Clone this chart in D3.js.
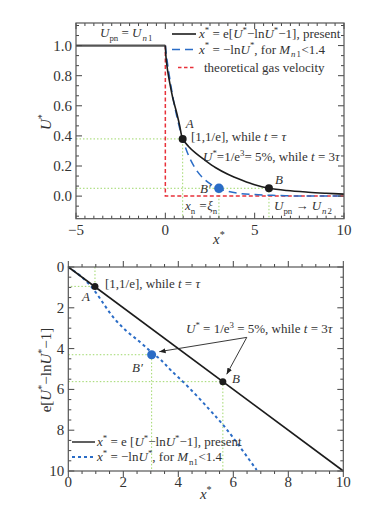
<!DOCTYPE html>
<html>
<head>
<meta charset="utf-8">
<script src="https://cdn.jsdelivr.net/npm/d3@7"></script>
<style>
  body { margin: 0; background: #fff; }
</style>
</head>
<body>
<svg id="chart" width="389" height="508" font-family="'Liberation Serif', 'DejaVu Serif', serif"></svg>
<script>
// ---- top panel data (U* against x*) ----
var topXTicks = [-5, 0, 5, 10]
var topYTicks = [0.0, 0.2, 0.4, 0.6, 0.8, 1.0]
var plateauX = [-5, 0]
var plateauU = [1, 1]
var presentX = [0, 0.04, 0.12, 0.25, 0.42, 0.62, 0.8, 0.97, 1.3, 1.7, 2.2, 2.8, 3.5, 4.3, 5.0, 5.8, 6.8, 8.0, 9.0, 10]
var presentU = [1, 0.92, 0.84, 0.75, 0.65, 0.56, 0.47, 0.38, 0.33, 0.285, 0.24, 0.19, 0.145, 0.105, 0.075, 0.052, 0.037, 0.026, 0.019, 0.013]
var lnX = [0, 0.1, 0.25, 0.45, 0.7, 0.97, 1.3, 1.7, 2.2, 2.6, 3.0, 3.5, 4.0, 5.0, 6.0, 7.0, 8.0, 10]
var lnU = [1, 0.9, 0.78, 0.64, 0.5, 0.38, 0.27, 0.18, 0.11, 0.075, 0.05, 0.032, 0.02, 0.01, 0.005, 0.002, 0, 0]
var gasX = [0, 0, 10]
var gasU = [1, 0, 0]
var topPoints = [{x: 0.97, u: 0.38, c: "dark"}, {x: 5.8, u: 0.052, c: "dark"}, {x: 3.0, u: 0.052, c: "blue"}]

// ---- bottom panel data (e[U*-lnU*-1] against x*) ----
var botTicks = [0, 2, 4, 6, 8, 10]
var lineX = [0, 10]
var lineY = [0, 10]
var blueX = [0, 0.43, 0.91, 1.27, 1.64, 2.12, 2.61, 3.03, 3.4, 3.7, 4.31, 5.15, 5.7, 6.24, 6.85]
var blueY = [0, 0.39, 1.04, 1.78, 2.51, 3.17, 3.66, 4.2, 4.56, 5.05, 5.78, 7.01, 7.83, 8.81, 9.95]
var botPoints = [{x: 0.97, y: 0.95, c: "dark"}, {x: 5.62, y: 5.62, c: "dark"}, {x: 3.03, y: 4.3, c: "blue"}]

var colors = {dark: "#1c1c1c", gray: "#555", blue: "#2a6cc6", red: "#e8313a", green: "#9fd86b"}
var serif = "'Liberation Serif', 'DejaVu Serif', serif"

var svg = d3.select("#chart")

// rich text: parts = [[string, kind, dx]] kind: "", "i", "sup", "sub", "isub"
function rich(sel, parts, size) {
  var shift = 0
  parts.forEach(function(p) {
    var s = p[0], k = p[1] || ""
    var t = sel.append("tspan").text(s)
    var target = 0
    if (k.indexOf("sup") >= 0) target = -size * 0.4
    if (k.indexOf("sub") >= 0) target = size * 0.3
    t.attr("dy", target - shift)
    if (p[2]) t.attr("dx", p[2])
    shift = target
    if (target !== 0) t.attr("font-size", size * 0.68)
    if (k === "i" || k === "isub" || k === "isup") t.attr("font-style", "italic")
  })
}

function label(g, x, y, parts, size, anchor) {
  var t = g.append("text").attr("x", x).attr("y", y).attr("font-size", size)
    .attr("font-family", serif).attr("fill", "#333")
    .attr("text-anchor", anchor || "start")
  rich(t, parts, size)
  return t
}

function frame(g, x, y, xMajor, yMajor, xMinor, yMinor, xFmt, yFmt) {
  var x0 = x.range()[0], x1 = x.range()[1], y0 = y.range()[0], y1 = y.range()[1]
  var ticks = g.append("g").attr("stroke", "#444").attr("stroke-width", 1)
  xMinor.forEach(function(v) {
    ticks.append("line").attr("x1", x(v)).attr("x2", x(v)).attr("y1", y0).attr("y2", y0 - 3)
    ticks.append("line").attr("x1", x(v)).attr("x2", x(v)).attr("y1", y1).attr("y2", y1 + 3)
  })
  xMajor.forEach(function(v) {
    ticks.append("line").attr("x1", x(v)).attr("x2", x(v)).attr("y1", y0).attr("y2", y0 - 6)
    ticks.append("line").attr("x1", x(v)).attr("x2", x(v)).attr("y1", y1).attr("y2", y1 + 6)
  })
  yMinor.forEach(function(v) {
    ticks.append("line").attr("y1", y(v)).attr("y2", y(v)).attr("x1", x0).attr("x2", x0 + 3)
    ticks.append("line").attr("y1", y(v)).attr("y2", y(v)).attr("x1", x1).attr("x2", x1 - 3)
  })
  yMajor.forEach(function(v) {
    ticks.append("line").attr("y1", y(v)).attr("y2", y(v)).attr("x1", x0).attr("x2", x0 + 6)
    ticks.append("line").attr("y1", y(v)).attr("y2", y(v)).attr("x1", x1).attr("x2", x1 - 6)
  })
  g.append("rect").attr("x", x0).attr("y", Math.min(y0, y1))
    .attr("width", x1 - x0).attr("height", Math.abs(y1 - y0))
    .attr("fill", "none").attr("stroke", "#555").attr("stroke-width", 1.2)
  g.selectAll(".xl").data(xMajor).enter().append("text")
    .attr("x", function(d) { return x(d) }).attr("y", Math.max(y0, y1) + 16)
    .attr("font-family", serif).attr("fill", "#333")
    .attr("text-anchor", "middle").attr("font-size", 15).text(xFmt)
  g.selectAll(".yl").data(yMajor).enter().append("text")
    .attr("x", x0 - 4).attr("y", function(d) { return y(d) + 5 })
    .attr("font-family", serif).attr("fill", "#333")
    .attr("text-anchor", "end").attr("font-size", 15).text(yFmt)
}

function path(g, xs, ys, x, y, color, width, dash, curve) {
  var pts = xs.map(function(v, i) { return [v, ys[i]] })
  g.append("path").datum(pts)
    .attr("d", d3.line().x(function(d) { return x(d[0]) }).y(function(d) { return y(d[1]) })
      .curve(curve || d3.curveLinear))
    .attr("fill", "none").attr("stroke", color).attr("stroke-width", width)
    .attr("stroke-dasharray", dash || null)
}

function guide(g, pts, color) {
  g.append("polyline").attr("points", pts.map(function(p) { return p.join(",") }).join(" "))
    .attr("fill", "none").attr("stroke", color).attr("stroke-width", 1).attr("stroke-dasharray", "1.5,2")
}

// ================= TOP PANEL =================
var xT = d3.scaleLinear().domain([-5, 10]).range([76, 344])
var yT = d3.scaleLinear().domain([-0.15, 1.15]).range([218.7, 23])
var gT = svg.append("g")

var xMinT = d3.range(-5, 10.01, 0.5).filter(function(v) { return topXTicks.indexOf(v) < 0 })
var yMinT = []
d3.range(-0.2, 1.21, 0.2).forEach(function(m) {
  [m + 0.2 / 3, m + 0.4 / 3].forEach(function(v) { if (v > -0.15 && v < 1.15) yMinT.push(v) })
})

// guides
guide(gT, [[xT(-5), yT(0.38)], [xT(0.97), yT(0.38)], [xT(0.97), yT(-0.15)]], colors.green)
guide(gT, [[xT(-5), yT(0.052)], [xT(5.8), yT(0.052)], [xT(5.8), yT(-0.15)]], colors.green)
guide(gT, [[xT(3.0), yT(0.052)], [xT(3.0), yT(-0.15)]], colors.green)

path(gT, gasX, gasU, xT, yT, colors.red, 1.5, "4,2.5")
path(gT, lnX, lnU, xT, yT, colors.blue, 1.5, "8,5", d3.curveMonotoneX)
path(gT, plateauX, plateauU, xT, yT, colors.gray, 2.2)
path(gT, presentX, presentU, xT, yT, colors.dark, 1.6, null, d3.curveCatmullRom)

gT.selectAll(".pt").data(topPoints).enter().append("circle")
  .attr("cx", function(d) { return xT(d.x) }).attr("cy", function(d) { return yT(d.u) })
  .attr("r", function(d) { return d.c === "blue" ? 4.8 : 4 })
  .attr("fill", function(d) { return colors[d.c] })

frame(gT, xT, yT, topXTicks, topYTicks, xMinT, yMinT, d3.format("d"), d3.format(".1f"))

// legend top
var legT = [
  {y: 34, c: colors.dark, dash: null, x0: 172, parts: [["x", "i"], ["*", "sup"], [" = e["], ["U", "i"], ["*", "sup"], ["\u2212ln"], ["U", "i"], ["*", "sup"], ["\u22121], present"]]},
  {y: 49.5, c: colors.blue, dash: "8,5", x0: 172, parts: [["x", "i"], ["*", "sup"], [" = \u2212ln"], ["U", "i"], ["*", "sup"], [", for "], ["M", "i"], ["n", "isub", 1], ["1", "sub", 1], ["<1.4", "", 0.5]]},
  {y: 67.5, c: colors.red, dash: "3.5,2.5", x0: 178, parts: [["theoretical gas velocity"]]}
]
legT.forEach(function(r, i) {
  gT.append("line").attr("x1", r.x0).attr("x2", 196).attr("y1", r.y).attr("y2", r.y)
    .attr("stroke", r.c).attr("stroke-width", 1.6).attr("stroke-dasharray", r.dash)
  label(gT, i === 2 ? 204 : 199, r.y + 4, r.parts, 13)
})

label(gT, 100, 37, [["U", "i"], ["pn", "sub"], [" = "], ["U", "i"], ["n", "isub", 1], ["1", "sub", 1]], 13)
label(gT, xT(0.97) + 3, 128, [["A", "i"]], 13)
label(gT, 191, 141, [["[1,1/e], while "], ["t", "i"], [" = "], ["\u03c4", "i"]], 13)
label(gT, 203, 161, [["U", "i"], ["*", "sup"], ["=1/e"], ["3", "sup"], ["= 5%, while "], ["t", "i"], [" = 3"], ["\u03c4", "i"]], 13)
label(gT, 275, 184, [["B", "i"]], 13)
label(gT, 200, 193, [["B\u2032", "i"]], 13)
label(gT, 185, 210, [["x", "i"], ["n", "sub"], [" =\u03be", "i"], ["n", "sub"]], 13)
label(gT, 274, 210, [["U", "i"], ["pn", "sub"], [" \u2192 "], ["U", "i"], ["n", "isub", 1], ["2", "sub", 1]], 13)

label(gT, xT(3), 244, [["x", "i"], ["*", "sup"]], 15, "middle")
label(gT, 0, 0, [["U", "i"], ["*", "sup"]], 15, "middle").attr("transform", "translate(51,122) rotate(-90)")

// ================= BOTTOM PANEL =================
var xB = d3.scaleLinear().domain([0, 10]).range([68.3, 343.3])
var yB = d3.scaleLinear().domain([0, 10]).range([267, 471])
var gB = svg.append("g")
var minB = d3.range(0, 10.01, 0.5).filter(function(v) { return botTicks.indexOf(v) < 0 })

var bp = botPoints
guide(gB, [[xB(bp[0].x), yB(0)], [xB(bp[0].x), yB(bp[0].y)], [xB(0), yB(bp[0].y)]], colors.green)
guide(gB, [[xB(0), yB(bp[2].y)], [xB(bp[2].x), yB(bp[2].y)], [xB(bp[2].x), yB(10)]], colors.green)
guide(gB, [[xB(0), yB(bp[1].y)], [xB(bp[1].x), yB(bp[1].y)], [xB(bp[1].x), yB(10)]], colors.green)

path(gB, blueX, blueY, xB, yB, colors.blue, 2, "3,3", d3.curveBasis)
path(gB, lineX, lineY, xB, yB, colors.dark, 1.6)

gB.selectAll(".pt").data(botPoints).enter().append("circle")
  .attr("cx", function(d) { return xB(d.x) }).attr("cy", function(d) { return yB(d.y) })
  .attr("r", function(d) { return d.c === "blue" ? 4.5 : 3.5 })
  .attr("fill", function(d) { return colors[d.c] })

frame(gB, xB, yB, botTicks, botTicks, minB, minB, d3.format("d"), d3.format("d"))

// arrows
svg.append("defs").append("marker").attr("id", "ah").attr("viewBox", "0 0 10 10")
  .attr("refX", 10).attr("refY", 5).attr("markerWidth", 7).attr("markerHeight", 7)
  .attr("orient", "auto").append("path").attr("d", "M0,1 L10,5 L0,9 z").attr("fill", "#222")
var arrowFrom = [6.49, 3.45]
var arrowTo = [[3.31, 4.15], [5.76, 5.26]]
arrowTo.forEach(function(p) {
  gB.append("line").attr("x1", xB(arrowFrom[0])).attr("y1", yB(arrowFrom[1]))
    .attr("x2", xB(p[0])).attr("y2", yB(p[1])).attr("stroke", "#222").attr("stroke-width", 0.9)
    .attr("marker-end", "url(#ah)")
})

label(gB, 105, 288, [["[1,1/e], while "], ["t", "i"], [" = "], ["\u03c4", "i"]], 13)
label(gB, 82, 301, [["A", "i"]], 13)
label(gB, 186, 333, [["U", "i"], ["*", "sup"], [" = 1/e"], ["3", "sup"], [" = 5%, while "], ["t", "i"], [" = 3"], ["\u03c4", "i"]], 13)
label(gB, 232, 383, [["B", "i"]], 13)
label(gB, 132, 372, [["B\u2032", "i"]], 13)

var legB = [
  {y: 442, c: colors.dark, dash: null, parts: [["x", "i"], ["*", "sup"], [" = e ["], ["U", "i"], ["*", "sup"], ["\u2212ln"], ["U", "i"], ["*", "sup"], ["\u22121], present"]]},
  {y: 457, c: colors.blue, dash: "3,3", parts: [["x", "i"], ["*", "sup"], [" = \u2212ln"], ["U", "i"], ["*", "sup"], [",  for "], ["M", "i"], ["n1", "sub", 1], ["<1.4", "", 0.5]]}
]
legB.forEach(function(r) {
  gB.append("line").attr("x1", 72).attr("x2", 95).attr("y1", r.y).attr("y2", r.y)
    .attr("stroke", r.c).attr("stroke-width", r.dash ? 2 : 1.4).attr("stroke-dasharray", r.dash)
  label(gB, 97, r.y + 4, r.parts, 13)
})

label(gB, xB(5), 499, [["x", "i"], ["*", "sup"]], 15, "middle")
label(gB, 0, 0, [["e["], ["U", "i"], ["*", "sup"], ["\u2212ln"], ["U", "i"], ["*", "sup"], ["\u22121]"]], 15, "middle")
  .attr("transform", "translate(51,370) rotate(-90)")
</script>
</body>
</html>
